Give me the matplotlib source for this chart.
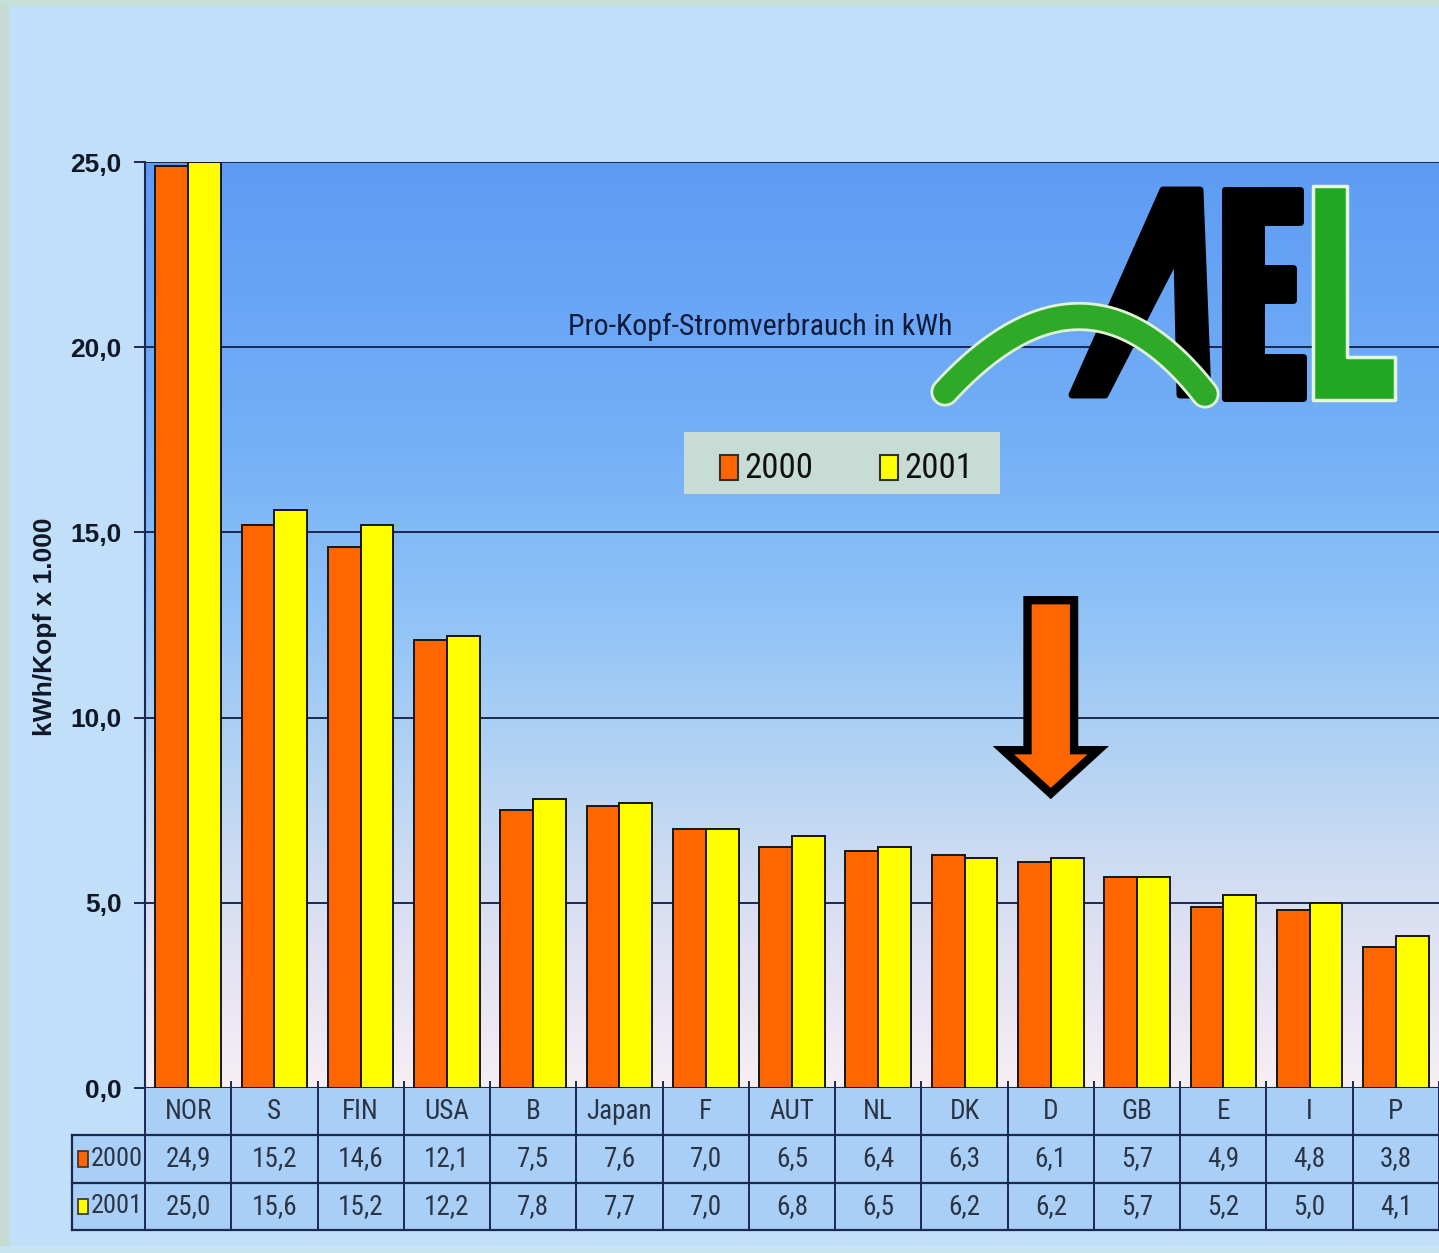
import os
import numpy as np
import matplotlib
matplotlib.use("Agg")
import matplotlib.pyplot as plt
from matplotlib import font_manager as fm
from matplotlib.font_manager import FontProperties
from matplotlib.colors import LinearSegmentedColormap
from matplotlib.patches import Rectangle, Polygon

# ---------------- data ----------------
countries = ["NOR", "S", "FIN", "USA", "B", "Japan", "F", "AUT", "NL", "DK", "D", "GB", "E", "I", "P"]
v2000 = [24.9, 15.2, 14.6, 12.1, 7.5, 7.6, 7.0, 6.5, 6.4, 6.3, 6.1, 5.7, 4.9, 4.8, 3.8]
v2001 = [25.0, 15.6, 15.2, 12.2, 7.8, 7.7, 7.0, 6.8, 6.5, 6.2, 6.2, 5.7, 5.2, 5.0, 4.1]
years = ["2000", "2001"]
yticks = [0, 5, 10, 15, 20, 25]
ytick_labels = ["0,0", "5,0", "10,0", "15,0", "20,0", "25,0"]
title = "Pro-Kopf-Stromverbrauch in kWh"
ylabel = "kWh/Kopf x 1.000"
highlight = "D"


def fmt(v):
    return f"{v:.1f}".replace(".", ",")


# ---------------- fonts: find a narrow/condensed face ----------------
def _weight(w):
    if isinstance(w, (int, float)):
        return int(w)
    return {"normal": 400, "regular": 400, "book": 400, "medium": 500,
            "semibold": 600, "demibold": 600, "bold": 700}.get(str(w).lower(), 400)


def pick_narrow():
    prefs = ["liberation sans narrow", "arial narrow", "roboto condensed", "noto sans",
             "open sans", "dejavu sans", "lato", "inter"]
    best, best_score = None, None
    for f in fm.fontManager.ttflist:
        fn = os.path.basename(f.fname).lower()
        nm = f.name.lower()
        st = str(f.stretch).lower()
        is_n = (any(k in fn for k in ("narrow", "condensed")) or
                any(k in nm for k in ("narrow", "condensed")) or
                st in ("condensed", "semi-condensed"))
        if not is_n or f.style != "normal" or _weight(f.weight) != 400:
            continue
        if "mono" in fn or "serif" in fn or "cjk" in fn:
            continue
        pen = 1 if any(k in fn for k in ("extra", "ultra", "semi")) else 0
        pi = next((i for i, p in enumerate(prefs) if p in nm), len(prefs))
        score = (pen, pi)
        if best_score is None or score < best_score:
            best, best_score = f, score
    return best


_nf = pick_narrow()
if _nf is not None:
    NARROW_PATH = _nf.fname
    NSCALE = 1.0
else:
    NARROW_PATH = None
    NSCALE = 0.82


def nfont(size):
    if NARROW_PATH:
        fp = FontProperties(fname=NARROW_PATH)
    else:
        fp = FontProperties(family=["Liberation Sans", "DejaVu Sans"])
    fp.set_size(size * NSCALE)
    return fp


# ---------------- style ----------------
W, H = 1439, 1253
ORANGE = "#ff6600"
YELLOW = "#ffff00"
NAVY = "#1c2850"
TXT = "#2b3444"
BOLD = ["Liberation Sans", "DejaVu Sans"]

fig = plt.figure(figsize=(W / 100, H / 100), dpi=100, facecolor="#c2dff9")

# ---------------- main axes ----------------
ax = fig.add_axes([145 / W, 1 - 1088 / H, (1439 - 145) / W, (1088 - 162) / H])
n = len(countries)
x = np.arange(n)
ax.set_xlim(-0.5, n - 0.5)
ax.set_ylim(0, 25)

cmap = LinearSegmentedColormap.from_list(
    "bg",
    [(0.0, "#5e9cf4"), (0.3, "#74aff6"), (0.5, "#92c4f7"),
     (0.7, "#c0d8f2"), (0.85, "#e2e2f2"), (1.0, "#f6eef4")])
ax.imshow(np.linspace(0, 1, 256).reshape(-1, 1), cmap=cmap, aspect="auto",
          extent=(-0.5, n - 0.5, 0, 25), origin="upper", zorder=0)

for v in yticks:
    ax.axhline(v, color=NAVY, lw=1.4, zorder=1)

bw = 0.38
ax.bar(x - bw / 2, v2000, bw, color=ORANGE, edgecolor="#161616", lw=1.4, zorder=3)
ax.bar(x + bw / 2, v2001, bw, color=YELLOW, edgecolor="#161616", lw=1.4, zorder=3)

ax.set_xticks([])
ax.set_yticks(yticks)
ax.set_yticklabels(ytick_labels, fontsize=19, fontweight="bold", family=BOLD, color="#101828")
ax.tick_params(axis="y", direction="out", length=8, width=1.4, color=NAVY, pad=9)
for s in ["top", "right"]:
    ax.spines[s].set_visible(False)
for s in ["left", "bottom"]:
    ax.spines[s].set_color(NAVY)
    ax.spines[s].set_linewidth(1.5)
ax.set_ylabel(ylabel, fontsize=19, fontweight="bold", family=BOLD, color="#101828")
ax.yaxis.set_label_coords((57 - 145) / 1294, 0.498)

# arrow pointing at Germany
ix = countries.index(highlight)
sh, hh = 0.27, 0.55
arrow = Polygon([(ix - sh, 13.17), (ix + sh, 13.17), (ix + sh, 9.12), (ix + hh, 9.12),
                 (ix, 7.95), (ix - hh, 9.12), (ix - sh, 9.12)],
                closed=True, fc=ORANGE, ec="black", lw=6, joinstyle="miter", zorder=6)
ax.add_patch(arrow)

# ---------------- data table ----------------
lw_c = 73 / 86.27
tab = fig.add_axes([72 / W, 1 - 1230 / H, (1439 - 72) / W, (1230 - 1088) / H])
tab.set_xlim(-0.5 - lw_c, n - 0.5)
tab.set_ylim(3, 0)
tab.axis("off")
CELL = "#a9cff6"
tab.add_patch(Rectangle((-0.5, 0), n, 3, fc=CELL, ec="none", zorder=0))
tab.add_patch(Rectangle((-0.5 - lw_c, 1), lw_c, 2, fc=CELL, ec="none", zorder=0))
for yy in [1, 2, 3]:
    tab.plot([-0.5 - lw_c, n - 0.5], [yy, yy], color=NAVY, lw=1.6, zorder=2, clip_on=False)
for k in range(n + 1):
    tab.plot([k - 0.5, k - 0.5], [-0.12, 3], color=NAVY, lw=1.4, zorder=2, clip_on=False)
tab.plot([-0.5 - lw_c, -0.5 - lw_c], [1, 3], color=NAVY, lw=1.6, zorder=2, clip_on=False)

for i, c in enumerate(countries):
    tab.text(i, 0.5, c, ha="center", va="center", fontproperties=nfont(19.5), color=TXT)
    tab.text(i, 1.5, fmt(v2000[i]), ha="center", va="center", fontproperties=nfont(19.5), color=TXT)
    tab.text(i, 2.5, fmt(v2001[i]), ha="center", va="center", fontproperties=nfont(19.5), color=TXT)

for r, (yr, col) in enumerate(zip(years, [ORANGE, YELLOW])):
    x0 = -0.5 - lw_c + 6 / 86.27
    tab.add_patch(Rectangle((x0, 1.5 + r - 0.16), 10 / 86.27, 0.32, fc=col, ec="#303030", lw=1.2, zorder=3))
    tab.text(-0.5 - lw_c + 19 / 86.27, 1.5 + r, yr, ha="left", va="center",
             fontproperties=nfont(19), color=TXT)

# ---------------- overlay (title, legend, logo, frame) ----------------
ov = fig.add_axes([0, 0, 1, 1], zorder=10)
ov.set_xlim(0, W)
ov.set_ylim(H, 0)
ov.axis("off")
ov.patch.set_alpha(0)

# frame
ov.add_patch(Rectangle((0, 0), 9, H, fc="#c6dcd0", ec="none"))
ov.add_patch(Rectangle((0, 0), W, 6, fc="#c6e0d6", ec="none"))
ov.add_patch(Rectangle((0, H - 7), W, 7, fc="#c8e4f2", ec="none"))

# title
ov.text(568, 327, title, ha="left", va="center", fontproperties=nfont(21.5), color="#0e1a3a")

# legend
ov.add_patch(Rectangle((684, 432), 316, 62, fc="#c8dcd6", ec="none"))
for (lx, yr, col) in [(720, years[0], ORANGE), (880, years[1], YELLOW)]:
    ov.add_patch(Rectangle((lx, 455), 18, 25, fc=col, ec="#303030", lw=1.5))
    ov.text(lx + 24, 468, yr, ha="left", va="center", fontproperties=nfont(25), color="#101010")

# logo "AEL"
ov.add_patch(Polygon([(1072, 395), (1163, 190), (1200, 190), (1208, 395), (1180, 395),
                      (1177, 255), (1105, 395)], closed=True, fc="black", ec="black",
                     lw=5, joinstyle="round"))
for (x0, y0, x1, y1) in [(1225, 190, 1261, 398), (1225, 190, 1300, 222),
                         (1225, 268, 1293, 300), (1225, 357, 1303, 398)]:
    ov.add_patch(Rectangle((x0, y0), x1 - x0, y1 - y0, fc="black", ec="black", lw=5, joinstyle="round"))
ov.add_patch(Polygon([(1313, 186), (1347, 186), (1347, 357), (1395, 357), (1395, 400), (1313, 400)],
                     closed=True, fc="#22a822", ec="#e4f6dc", lw=2.5, joinstyle="round"))
t = np.linspace(0, 1, 100)
p0, p1, p2 = np.array([945, 392]), np.array([1085, 240]), np.array([1205, 394])
curve = (1 - t)[:, None] ** 2 * p0 + 2 * ((1 - t) * t)[:, None] * p1 + (t ** 2)[:, None] * p2
ov.plot(curve[:, 0], curve[:, 1], color="#dff3d6", lw=21, solid_capstyle="round")
ov.plot(curve[:, 0], curve[:, 1], color="#2eaa28", lw=17, solid_capstyle="round")

fig.savefig("out.png", dpi=100, facecolor=fig.get_facecolor())
